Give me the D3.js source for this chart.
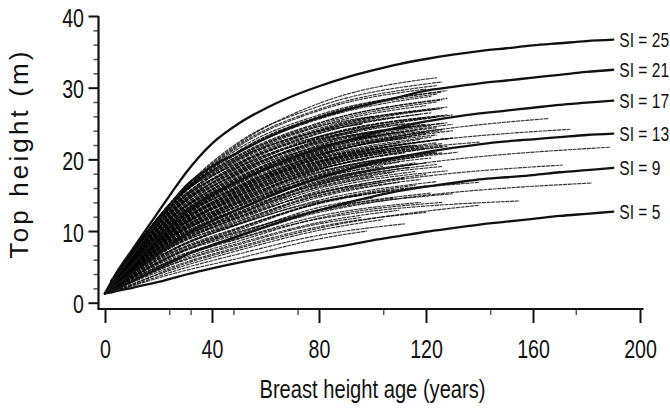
<!DOCTYPE html>
<html>
<head>
<meta charset="utf-8">
<script src="https://cdn.jsdelivr.net/npm/d3@7"></script>
<style>
  html, body { margin: 0; padding: 0; background: #fff; }
  svg { display: block; }
  text { font-family: "Liberation Sans", Arial, Helvetica, sans-serif; fill: #111; }
</style>
</head>
<body>
<svg id="chart" width="670" height="409"></svg>
<script>
// ---------- data ----------
const siAges = [0,5,10,15,20,25,30,40,50,60,70,80,90,100,110,120,130,140,150,160,170,180,190];
const si25 = [1.3,4.6,7.3,10.0,12.7,15.4,18.0,22.2,25.0,27.1,28.8,30.2,31.4,32.4,33.3,34.0,34.6,35.1,35.5,35.9,36.2,36.5,36.7];
const si21 = [1.3,4.0,6.5,9.0,11.5,14.0,16.2,19.0,21.0,22.9,24.5,25.8,26.9,27.8,28.7,29.6,30.1,30.6,31.0,31.4,31.8,32.2,32.5];
const si17 = [1.3,3.3,5.2,7.2,9.1,10.9,12.6,15.1,17.0,18.7,20.2,21.5,22.6,23.6,24.5,25.3,25.9,26.4,26.8,27.2,27.6,27.9,28.2];
const si13 = [1.3,2.7,4.1,5.5,6.9,8.2,9.5,11.4,13.0,14.6,16.1,17.4,18.5,19.5,20.3,21.0,21.6,22.1,22.5,22.8,23.1,23.4,23.6];
const si9  = [1.3,2.1,3.0,3.9,4.8,5.7,6.6,8.0,9.3,10.6,11.8,12.9,13.9,14.8,15.6,16.2,16.7,17.2,17.5,17.8,18.2,18.5,18.8];
const si5  = [1.3,1.7,2.05,2.5,2.9,3.4,3.9,4.8,5.6,6.3,6.9,7.4,8.0,8.7,9.3,9.9,10.4,10.9,11.3,11.7,12.1,12.4,12.7];
const siLabels = ["SI = 25","SI = 21","SI = 17","SI = 13","SI = 9","SI = 5"];

// observed stem-analysis trajectories: heights at treeAges, then [last age, last height]
const treeAges = [2,10,25,50,80];
const trees = [
  [1.4,2.4,4.3,6.8,9.4,112,11.0],[1.5,2.6,4.6,7.3,10.1,104,11.6],[1.3,2.3,4.0,6.2,8.9,98,10.0],
  [1.5,2.8,5.0,7.8,10.6,120,12.6],[1.4,2.5,4.8,7.6,10.4,140,13.6],[1.6,2.9,5.3,8.1,11.0,96,11.9],
  [1.5,3.0,5.6,8.6,11.8,126,14.0],[1.7,3.3,5.9,8.9,11.7,155,14.2],[1.4,2.9,5.4,8.3,11.2,110,12.9],
  [1.6,3.4,6.2,9.0,12.1,118,14.0],[1.5,3.2,6.0,9.4,12.9,122,15.3],[1.8,3.6,6.6,9.8,13.0,108,14.6],
  [1.5,3.1,5.9,9.2,12.6,182,16.7],[1.6,3.5,6.5,9.6,13.3,100,14.6],[1.7,3.8,7.0,9.9,12.8,130,15.2],
  [1.6,3.6,6.8,10.4,14.0,116,16.4],[1.9,4.2,7.4,10.9,14.3,124,16.9],[1.5,3.4,6.4,10.1,13.9,106,15.6],
  [1.6,3.7,7.0,10.5,13.8,140,16.8],[1.8,4.4,7.9,11.0,14.1,96,15.0],[1.7,4.0,7.4,11.3,15.2,120,17.9],
  [1.9,4.5,8.2,11.8,15.4,112,17.4],[1.6,3.9,7.3,11.1,15.0,171,19.2],[1.8,4.3,8.0,11.6,15.6,128,18.4],
  [2.0,4.8,8.6,12.0,15.3,104,16.8],[1.7,4.1,7.7,11.4,14.9,118,17.2],[1.8,4.3,8.1,12.2,16.4,124,19.3],
  [1.9,4.7,8.8,12.7,16.6,114,18.9],[1.6,4.0,7.8,12.0,16.2,108,18.2],[2.1,5.1,9.3,13.0,16.5,126,19.0],
  [1.7,4.4,8.4,12.4,16.8,189,21.7],[1.8,4.6,8.6,12.5,16.1,100,17.6],[1.9,4.5,8.3,12.3,16.7,120,19.5],
  [1.8,4.6,8.8,13.2,17.5,118,20.4],[2.0,5.0,9.4,13.6,17.8,126,20.9],[1.7,4.4,8.5,13.0,17.3,110,19.6],
  [2.2,5.4,10.0,14.0,17.7,122,20.2],[1.9,4.8,9.1,13.4,17.6,132,21.0],[1.8,4.5,8.7,13.1,17.4,104,19.0],
  [2.0,5.1,9.6,13.8,17.2,116,19.3],[1.9,4.9,9.4,14.2,18.5,120,21.5],[2.1,5.4,10.2,14.7,18.9,126,21.8],
  [1.8,4.7,9.1,14.0,18.6,112,20.9],[2.0,5.2,9.9,14.5,18.3,124,21.0],[2.3,5.8,10.8,15.0,18.7,98,20.0],
  [1.9,5.0,9.6,14.3,18.8,140,22.4],[2.1,5.3,10.0,14.6,19.0,118,21.6],[1.8,4.8,9.3,14.1,18.2,108,20.2],
  [2.0,5.2,10.0,15.2,19.6,122,22.6],[2.2,5.7,10.8,15.6,19.8,128,22.9],[1.9,5.0,9.8,15.0,19.4,114,21.9],
  [2.4,6.1,11.3,16.0,19.7,116,22.0],[2.0,5.3,10.2,15.3,19.5,130,23.0],[2.2,5.6,10.6,15.5,20.1,106,21.8],
  [1.9,5.1,9.9,15.1,19.3,124,22.3],[2.1,5.4,10.5,15.6,19.8,174,24.2],[2.1,5.5,10.7,16.2,20.6,120,23.6],
  [2.3,6.0,11.5,16.6,20.9,126,24.0],[2.0,5.3,10.4,16.0,20.4,166,25.7],[2.2,5.8,11.2,16.4,20.7,112,22.9],
  [2.5,6.4,12.0,17.0,20.8,124,23.4],[2.1,5.6,10.9,16.3,20.5,130,24.0],[2.2,5.8,11.4,17.2,21.6,122,24.7],
  [2.4,6.3,12.1,17.6,21.9,128,25.1],[2.1,5.6,11.0,17.0,21.4,116,24.0],[2.3,6.1,11.8,17.4,22.0,126,25.0],
  [2.6,6.7,12.7,18.0,21.8,110,23.8],[2.2,5.9,11.5,17.1,21.3,130,24.9],[2.3,6.0,11.6,17.3,21.7,104,23.4],
  [2.3,6.1,12.0,18.2,22.7,124,25.9],[2.5,6.6,12.8,18.6,23.0,128,26.2],[2.2,5.9,11.7,18.0,22.5,118,25.2],
  [2.4,6.4,12.5,18.5,23.1,120,25.8],[2.7,7.0,13.3,19.0,22.9,112,25.0],[2.3,6.2,12.2,18.3,22.6,130,26.2],
  [2.4,6.4,12.7,19.2,23.8,124,27.0],[2.6,6.9,13.5,19.6,24.1,128,27.3],[2.3,6.2,12.4,19.0,23.6,118,26.3],
  [2.5,6.7,13.1,19.4,24.0,126,27.1],[2.8,7.0,13.9,20.0,24.0,108,25.9],[2.5,6.6,13.3,20.2,24.8,124,28.0],
  [2.7,7.0,13.9,20.6,25.1,126,28.3],[2.4,6.4,13.0,20.0,24.6,120,27.5],[2.6,6.9,13.7,20.4,25.0,128,28.5],
  [2.6,6.9,13.8,21.1,25.9,124,29.1],[2.8,7.0,14.0,21.5,26.2,126,29.4],[2.5,6.7,13.6,20.9,25.6,122,28.8],
  [2.7,7.0,13.9,21.2,26.0,128,29.6],[2.7,7.0,13.9,22.0,27.0,124,30.3],[2.9,7.1,14.2,22.4,27.4,126,30.8],
  [2.8,7.0,14.1,22.2,27.8,124,31.4],[2.6,6.9,13.8,21.8,26.8,120,29.8],
  [2.0,5.0,9.7,14.8,19.2,118,21.9],[2.2,5.6,10.9,16.1,20.3,122,23.1],[2.4,6.2,12.0,17.5,21.6,124,24.4],
  [2.1,5.5,10.8,16.8,21.0,114,23.2],[2.3,6.0,11.9,17.8,22.2,120,24.9],[2.5,6.5,12.6,18.8,23.2,126,26.1],
  [2.0,5.2,10.1,15.8,20.2,110,22.3],[1.9,4.9,9.5,14.4,18.6,128,21.8],[2.2,5.7,11.1,16.7,21.2,126,24.2],
  [2.6,6.8,13.0,18.4,22.4,116,24.6],[1.8,4.6,8.9,13.6,17.9,124,20.9],[2.1,5.3,10.3,15.4,19.6,104,21.1],
  [2.4,6.3,12.3,18.1,22.3,112,24.3],[2.3,5.9,11.4,16.9,21.1,120,23.8],[2.0,5.1,9.8,14.9,19.1,126,22.2],
  [1.7,4.3,8.2,12.6,16.9,116,19.5],[2.5,6.6,12.9,19.3,23.6,122,26.5],[2.2,5.5,10.5,15.9,20.0,118,22.8],
  [1.9,4.7,9.0,13.9,18.1,122,21.0],[2.6,6.8,13.4,19.8,24.3,120,26.9],[2.8,7.0,14.1,20.5,24.6,100,26.0],
  [3.0,7.1,14.1,20.2,23.9,96,24.9],[2.9,7.0,14.0,19.5,23.2,104,24.8],[2.7,7.0,13.4,18.9,22.8,94,23.8],
  [1.6,3.8,7.2,11.0,14.7,110,16.8],[1.7,4.2,7.9,11.9,15.9,116,18.3],[1.5,3.5,6.6,10.3,13.9,120,16.3],
  [2.0,4.9,9.2,13.5,17.0,100,18.5],[2.3,5.8,11.0,16.2,20.6,90,21.6],[2.1,5.4,10.4,15.7,20.1,96,21.2]
];

const xTicks = [0,40,80,120,160,200];
const xMinorTicks = [24,32,48,72,104,144,176];
const yTicks = [0,10,20,30,40];
const yMinorTicks = [2,4,6,8,12,14,16,18,22,24,26,28,32,34,36,38];
const xTitle = "Breast height age (years)";
const yTitle = "Top height (m)";

// ---------- drawing ----------
const svg = d3.select("#chart");
svg.append("rect").attr("width",670).attr("height",409).attr("fill","#fff");

const x = d3.scaleLinear().domain([0,200]).range([105,640]);
const y = d3.scaleLinear().domain([0,40]).range([302.7,16]);

const line = d3.line().x(d => x(d[0])).y(d => y(d[1])).curve(d3.curveMonotoneX);

// thin data lines
const gData = svg.append("g");
trees.forEach(r => {
  const pts = treeAges.map((a,i) => [a, r[i]]);
  pts.push([r[5], r[6]]);
  gData.append("path").attr("d", line(pts))
    .attr("fill","none").attr("stroke","#000").attr("stroke-width",1.15)
    .attr("stroke-opacity",0.8).attr("stroke-dasharray","4,0.7");
});

// site index curves
const siSeries = [si25, si21, si17, si13, si9, si5];
const gSI = svg.append("g");
siSeries.forEach((s, k) => {
  const pts = siAges.map((a,i) => [a, s[i]]);
  gSI.append("path").attr("d", line(pts))
    .attr("fill","none").attr("stroke","#111").attr("stroke-width",2.3)
    .attr("stroke-linecap","round");
  const last = pts[pts.length-1];
  gSI.append("text")
    .attr("transform", `translate(${x(last[0]) + 6},${y(last[1]) + 7}) scale(0.8,1)`)
    .attr("font-size", 19.5)
    .text(siLabels[k]);
});

// x axis
const xAxisY = 309;
const gx = svg.append("g").attr("transform", `translate(0,${xAxisY})`);
gx.call(d3.axisBottom(x).tickValues(xTicks).tickSize(14).tickSizeOuter(0));
gx.select(".domain").remove();
gx.selectAll(".tick line").attr("stroke","#111").attr("stroke-width",2);
gx.selectAll(".tick text")
  .attr("y", null).attr("dy", null)
  .attr("transform", "translate(0,49) scale(0.74,1)")
  .attr("font-size", 26.5).attr("font-family", null).attr("fill","#111");
const gxm = svg.append("g").attr("transform", `translate(0,${xAxisY})`);
gxm.call(d3.axisBottom(x).tickValues(xMinorTicks).tickSize(6).tickSizeOuter(0).tickFormat(""));
gxm.select(".domain").remove();
gxm.selectAll(".tick line").attr("stroke","#555").attr("stroke-width",1.5);
svg.append("line").attr("x1", 97.5).attr("x2", x(200) + 3.5)
  .attr("y1", xAxisY).attr("y2", xAxisY).attr("stroke","#111").attr("stroke-width",2.2);

// y axis
const yAxisX = 98.5;
const gy = svg.append("g").attr("transform", `translate(${yAxisX},0)`);
gy.call(d3.axisLeft(y).tickValues(yTicks).tickSize(10).tickSizeOuter(0));
gy.select(".domain").remove();
gy.selectAll(".tick line").attr("stroke","#111").attr("stroke-width",2);
gy.selectAll(".tick text")
  .attr("x", null).attr("dy", null)
  .attr("transform", "translate(-14.5,10) scale(0.74,1)")
  .attr("text-anchor","end")
  .attr("font-size", 26.5).attr("font-family", null).attr("fill","#111");
const gym = svg.append("g").attr("transform", `translate(${yAxisX},0)`);
gym.call(d3.axisLeft(y).tickValues(yMinorTicks).tickSize(5).tickSizeOuter(0).tickFormat(""));
gym.select(".domain").remove();
gym.selectAll(".tick line").attr("stroke","#555").attr("stroke-width",1.5);
svg.append("line").attr("x1", yAxisX).attr("x2", yAxisX)
  .attr("y1", y(40)).attr("y2", xAxisY).attr("stroke","#111").attr("stroke-width",2.2);

// titles
svg.append("text")
  .attr("transform", "translate(372.5,398) scale(0.79,1)")
  .attr("text-anchor","middle").attr("font-size", 25.5)
  .text(xTitle);
svg.append("text")
  .attr("transform", "translate(28.3,155) rotate(-90)")
  .attr("text-anchor","middle").attr("font-size", 26)
  .attr("textLength", 207).attr("lengthAdjust","spacing")
  .text(yTitle);
</script>
</body>
</html>
